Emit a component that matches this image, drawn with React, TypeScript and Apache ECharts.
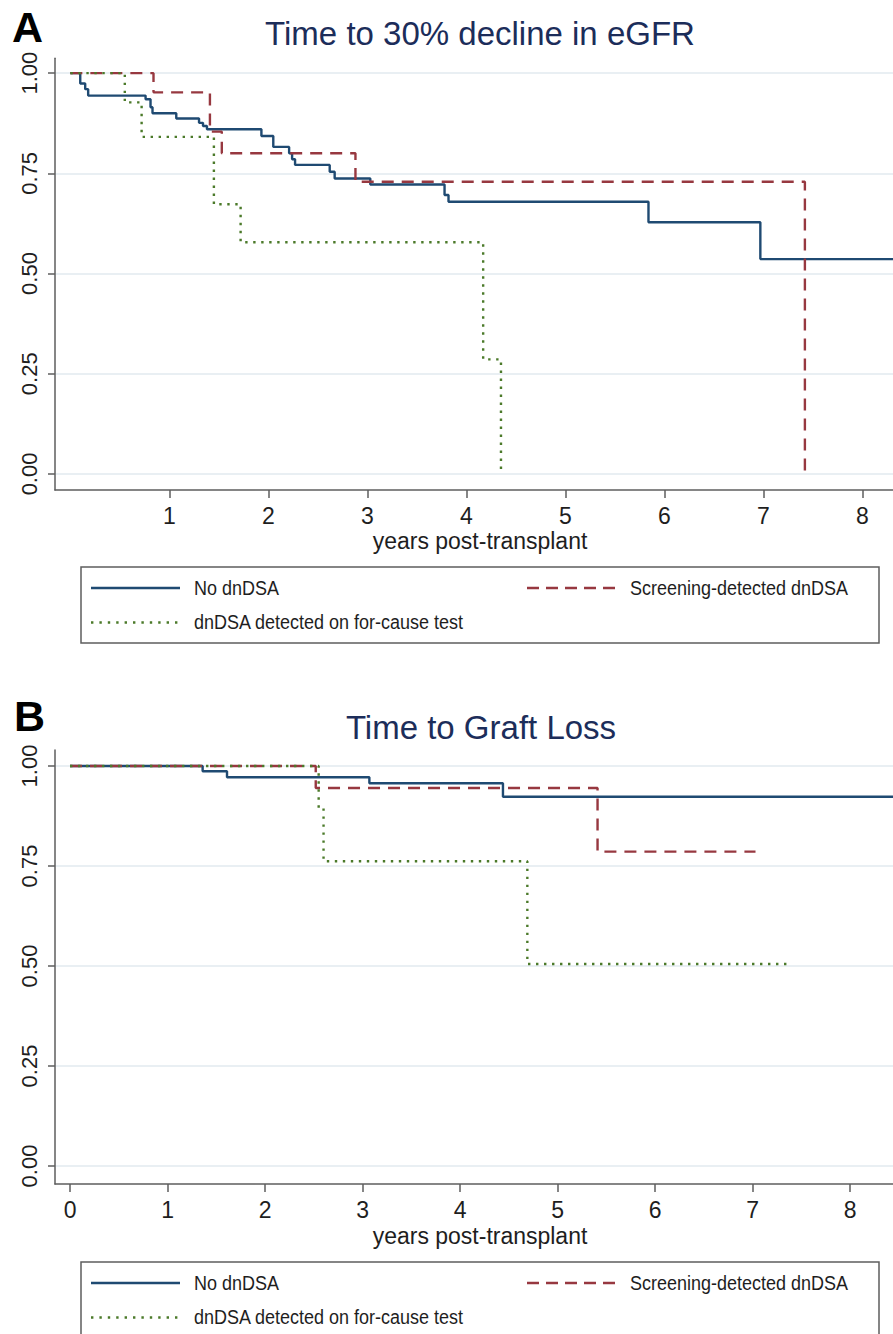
import React, { useEffect, useRef } from "react";
import * as echarts from "echarts";

// ---- Panel A: Time to 30% decline in eGFR ----
const A_NO_T = [0, 0.1, 0.15, 0.18, 0.76, 0.81, 0.83, 1.07, 1.3, 1.34, 1.38, 1.93, 2.05, 2.21, 2.24, 2.27, 2.62, 2.67, 3.03, 3.78, 3.82, 5.84, 6.97, 8.31];
const A_NO_S = [1, 0.974, 0.96, 0.944, 0.935, 0.915, 0.9, 0.887, 0.876, 0.868, 0.86, 0.843, 0.816, 0.8, 0.785, 0.771, 0.754, 0.737, 0.722, 0.696, 0.679, 0.628, 0.536, 0.536];
const A_SCR_T = [0, 0.84, 1.41, 1.53, 2.88, 7.42];
const A_SCR_S = [1, 0.952, 0.854, 0.8, 0.729, 0];
const A_FC_T = [0, 0.55, 0.72, 1.45, 1.72, 4.17, 4.35];
const A_FC_S = [1, 0.927, 0.841, 0.673, 0.578, 0.286, 0];

// ---- Panel B: Time to Graft Loss ----
const B_NO_T = [0, 1.36, 1.61, 3.07, 4.44, 8.44];
const B_NO_S = [1, 0.987, 0.972, 0.957, 0.923, 0.923];
const B_SCR_T = [0, 2.52, 5.41, 7.03];
const B_SCR_S = [1, 0.945, 0.786, 0.786];
const B_FC_T = [0, 2.55, 2.6, 4.69, 7.37];
const B_FC_S = [1, 0.894, 0.762, 0.505, 0.505];

const Y_TICKS = [0, 0.25, 0.5, 0.75, 1];
const A_X_TICKS = [1, 2, 3, 4, 5, 6, 7, 8];
const B_X_TICKS = [0, 1, 2, 3, 4, 5, 6, 7, 8];

const TITLE_A = "Time to 30% decline in eGFR";
const TITLE_B = "Time to Graft Loss";
const X_NAME = "years post-transplant";
const LEG_NO = "No dnDSA";
const LEG_SCR = "Screening-detected dnDSA";
const LEG_FC = "dnDSA detected on for-cause test";

const NAVY = "#1f4a72";
const MAROON = "#973840";
const GREEN = "#4b7a2a";
const FONT = "'Liberation Sans', Arial, sans-serif";
const AXIS_COLOR = "#5e5e5e";
const GRID_COLOR = "#e2eaef";

const pairs = (t: number[], s: number[]) => t.map((x, i) => [x, s[i]]);

function xAxisCfg(gridIndex: number, min: number, max: number, ticks: number[]) {
  return {
    type: "value",
    gridIndex,
    min,
    max,
    axisLine: { show: true, onZero: false, lineStyle: { color: AXIS_COLOR, width: 1.5 } },
    axisTick: { show: true, length: 8, customValues: ticks, lineStyle: { color: AXIS_COLOR, width: 1.5 } },
    axisLabel: {
      customValues: ticks,
      fontSize: 23,
      fontFamily: FONT,
      color: "#1e1e1e",
      margin: 14,
      formatter: (v: number) => String(Math.round(v)),
    },
    splitLine: { show: false },
  };
}

function yAxisCfg(gridIndex: number, min: number, max: number) {
  return {
    type: "value",
    gridIndex,
    min,
    max,
    axisLine: { show: true, onZero: false, lineStyle: { color: AXIS_COLOR, width: 1.5 } },
    axisTick: { show: true, length: 7, customValues: Y_TICKS, lineStyle: { color: AXIS_COLOR, width: 1.5 } },
    axisLabel: {
      customValues: Y_TICKS,
      rotate: 90,
      fontSize: 22,
      fontFamily: FONT,
      color: "#1e1e1e",
      margin: 15,
      formatter: (v: number) => v.toFixed(2),
    },
    splitLine: { show: true, lineStyle: { color: GRID_COLOR, width: 1.5 } },
  };
}

function stepSeries(name: string, data: number[][], idx: number, color: string, type: any, width: number) {
  return {
    name,
    type: "line",
    step: "end",
    xAxisIndex: idx,
    yAxisIndex: idx,
    data,
    showSymbol: false,
    symbol: "none",
    lineStyle: { color, width, type },
    silent: true,
  };
}

function textG(x: number, y: number, text: string, size: number, weight: string, fill: string, align: string, scaleY = 1) {
  return {
    type: "text",
    x,
    y,
    scaleY,
    style: { text, fontSize: size, fontWeight: weight, fontFamily: FONT, fill, align, verticalAlign: "middle" },
  };
}

function legendGraphic(top: number, height: number) {
  const row1 = top + 21;
  const row2 = top + 55.5;
  return [
    {
      type: "rect",
      shape: { x: 81, y: top, width: 798, height },
      style: { fill: "#fff", stroke: "#5e5e5e", lineWidth: 1.5 },
    },
    { type: "line", shape: { x1: 91, y1: row1, x2: 180, y2: row1 }, style: { stroke: NAVY, lineWidth: 2.4 } },
    textG(194, row1, LEG_NO, 18, "normal", "#1e1e1e", "left", 1.1),
    { type: "line", shape: { x1: 527, y1: row1, x2: 615, y2: row1 }, style: { stroke: MAROON, lineWidth: 2.4, lineDash: [12, 7] } },
    textG(630, row1, LEG_SCR, 18, "normal", "#1e1e1e", "left", 1.1),
    { type: "line", shape: { x1: 91, y1: row2, x2: 178, y2: row2 }, style: { stroke: GREEN, lineWidth: 2.4, lineDash: [2.4, 6] } },
    textG(194, row2, LEG_FC, 18, "normal", "#1e1e1e", "left", 1.1),
  ];
}

export default function App() {
  const ref = useRef<HTMLDivElement>(null);
  useEffect(() => {
    if (!ref.current) return;
    const chart = echarts.init(ref.current, undefined, { renderer: "svg" });
    chart.setOption({
      animation: false,
      backgroundColor: "#ffffff",
      grid: [
        { left: 55, width: 838, top: 58.3, height: 431.7 },
        { left: 55, width: 838, top: 750, height: 434 },
      ],
      xAxis: [xAxisCfg(0, -0.155, 8.31, A_X_TICKS), xAxisCfg(1, -0.154, 8.44, B_X_TICKS)],
      yAxis: [yAxisCfg(0, -0.04, 1.037), yAxisCfg(1, -0.045, 1.04)],
      series: [
        stepSeries(LEG_NO, pairs(A_NO_T, A_NO_S), 0, NAVY, "solid", 2.4),
        stepSeries(LEG_SCR, pairs(A_SCR_T, A_SCR_S), 0, MAROON, [12, 8], 2.4),
        stepSeries(LEG_FC, pairs(A_FC_T, A_FC_S), 0, GREEN, [2.4, 5.6], 2.4),
        stepSeries(LEG_NO, pairs(B_NO_T, B_NO_S), 1, NAVY, "solid", 2.4),
        stepSeries(LEG_SCR, pairs(B_SCR_T, B_SCR_S), 1, MAROON, [12, 8], 2.4),
        stepSeries(LEG_FC, pairs(B_FC_T, B_FC_S), 1, GREEN, [2.4, 5.6], 2.4),
      ],
      graphic: [
        textG(12, 27, "A", 43, "bold", "#000", "left"),
        textG(480, 33, TITLE_A, 33, "normal", "#1c2d5a", "center"),
        textG(480, 540, X_NAME, 23, "normal", "#1e1e1e", "center", 1.08),
        ...legendGraphic(567, 76),
        textG(14, 716, "B", 43, "bold", "#000", "left"),
        textG(481, 727, TITLE_B, 33, "normal", "#1c2d5a", "center"),
        textG(480, 1235, X_NAME, 23, "normal", "#1e1e1e", "center", 1.08),
        ...legendGraphic(1262, 90),
      ],
    });
    return () => chart.dispose();
  }, []);
  return <div ref={ref} style={{ position: "absolute", left: 0, top: 0, width: 893, height: 1334 }} />;
}
